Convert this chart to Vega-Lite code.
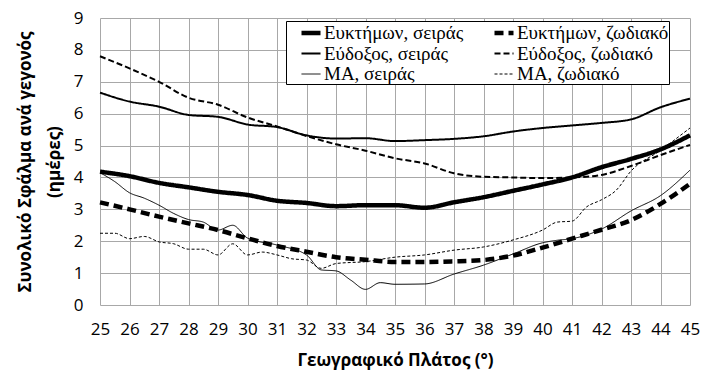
{
  "$schema": "https://vega.github.io/schema/vega-lite/v6.json",
  "width": 590,
  "height": 287,
  "autosize": {"type": "none"},
  "padding": {"left": 100, "top": 18, "right": 25, "bottom": 83},
  "background": "white",
  "config": {
    "view": {"stroke": null},
    "style": {"guide-label": {"font": "Liberation Serif"}},
    "axis": {
      "gridColor": "#a8a8a8",
      "gridWidth": 1,
      "domain": false,
      "ticks": false,
      "labelFont": "Open Sans",
      "labelFontSize": 17,
      "labelColor": "black",
      "titleFont": "Open Sans",
      "titleFontSize": 17,
      "titleFontWeight": "bold",
      "titleColor": "black"
    },
    "legend": {
      "orient": "none",
      "legendX": 186,
      "legendY": 3,
      "columns": 2,
      "strokeColor": "black",
      "fillColor": "white",
      "padding": 0,
      "columnPadding": 15,
      "rowPadding": 0,
      "labelFont": "Liberation Serif",
      "labelFontSize": 19,
      "labelColor": "black",
      "labelOffset": 1,
      "labelLimit": 300,
      "symbolType": "stroke",
      "symbolSize": 361,
      "symbolOffset": 13,
      "symbolStrokeColor": "black"
    }
  },
  "data": {
    "values": [
      {"series": "Ευκτήμων, σειράς", "lat": 25, "err": 4.18},
      {"series": "Ευκτήμων, σειράς", "lat": 26, "err": 4.04},
      {"series": "Ευκτήμων, σειράς", "lat": 27, "err": 3.83},
      {"series": "Ευκτήμων, σειράς", "lat": 28, "err": 3.69},
      {"series": "Ευκτήμων, σειράς", "lat": 29, "err": 3.55},
      {"series": "Ευκτήμων, σειράς", "lat": 30, "err": 3.45},
      {"series": "Ευκτήμων, σειράς", "lat": 31, "err": 3.27},
      {"series": "Ευκτήμων, σειράς", "lat": 32, "err": 3.2},
      {"series": "Ευκτήμων, σειράς", "lat": 33, "err": 3.1},
      {"series": "Ευκτήμων, σειράς", "lat": 34, "err": 3.13},
      {"series": "Ευκτήμων, σειράς", "lat": 35, "err": 3.13},
      {"series": "Ευκτήμων, σειράς", "lat": 36, "err": 3.05},
      {"series": "Ευκτήμων, σειράς", "lat": 37, "err": 3.22},
      {"series": "Ευκτήμων, σειράς", "lat": 38, "err": 3.38},
      {"series": "Ευκτήμων, σειράς", "lat": 39, "err": 3.58},
      {"series": "Ευκτήμων, σειράς", "lat": 40, "err": 3.78},
      {"series": "Ευκτήμων, σειράς", "lat": 41, "err": 4.0},
      {"series": "Ευκτήμων, σειράς", "lat": 42, "err": 4.32},
      {"series": "Ευκτήμων, σειράς", "lat": 43, "err": 4.58},
      {"series": "Ευκτήμων, σειράς", "lat": 44, "err": 4.88},
      {"series": "Ευκτήμων, σειράς", "lat": 45, "err": 5.32},

      {"series": "Ευκτήμων, ζωδιακό", "lat": 25, "err": 3.22},
      {"series": "Ευκτήμων, ζωδιακό", "lat": 26, "err": 3.0},
      {"series": "Ευκτήμων, ζωδιακό", "lat": 27, "err": 2.77},
      {"series": "Ευκτήμων, ζωδιακό", "lat": 28, "err": 2.56},
      {"series": "Ευκτήμων, ζωδιακό", "lat": 29, "err": 2.35},
      {"series": "Ευκτήμων, ζωδιακό", "lat": 30, "err": 2.09},
      {"series": "Ευκτήμων, ζωδιακό", "lat": 31, "err": 1.85},
      {"series": "Ευκτήμων, ζωδιακό", "lat": 32, "err": 1.67},
      {"series": "Ευκτήμων, ζωδιακό", "lat": 33, "err": 1.5},
      {"series": "Ευκτήμων, ζωδιακό", "lat": 34, "err": 1.42},
      {"series": "Ευκτήμων, ζωδιακό", "lat": 35, "err": 1.35},
      {"series": "Ευκτήμων, ζωδιακό", "lat": 36, "err": 1.35},
      {"series": "Ευκτήμων, ζωδιακό", "lat": 37, "err": 1.37},
      {"series": "Ευκτήμων, ζωδιακό", "lat": 38, "err": 1.41},
      {"series": "Ευκτήμων, ζωδιακό", "lat": 39, "err": 1.55},
      {"series": "Ευκτήμων, ζωδιακό", "lat": 40, "err": 1.8},
      {"series": "Ευκτήμων, ζωδιακό", "lat": 41, "err": 2.08},
      {"series": "Ευκτήμων, ζωδιακό", "lat": 42, "err": 2.36},
      {"series": "Ευκτήμων, ζωδιακό", "lat": 43, "err": 2.66},
      {"series": "Ευκτήμων, ζωδιακό", "lat": 44, "err": 3.17},
      {"series": "Ευκτήμων, ζωδιακό", "lat": 45, "err": 3.8},

      {"series": "Εύδοξος, σειράς", "lat": 25, "err": 6.66},
      {"series": "Εύδοξος, σειράς", "lat": 26, "err": 6.38},
      {"series": "Εύδοξος, σειράς", "lat": 27, "err": 6.22},
      {"series": "Εύδοξος, σειράς", "lat": 28, "err": 5.96},
      {"series": "Εύδοξος, σειράς", "lat": 29, "err": 5.9},
      {"series": "Εύδοξος, σειράς", "lat": 30, "err": 5.66},
      {"series": "Εύδοξος, σειράς", "lat": 31, "err": 5.58},
      {"series": "Εύδοξος, σειράς", "lat": 32, "err": 5.32},
      {"series": "Εύδοξος, σειράς", "lat": 33, "err": 5.22},
      {"series": "Εύδοξος, σειράς", "lat": 34, "err": 5.23},
      {"series": "Εύδοξος, σειράς", "lat": 35, "err": 5.14},
      {"series": "Εύδοξος, σειράς", "lat": 36, "err": 5.17},
      {"series": "Εύδοξος, σειράς", "lat": 37, "err": 5.21},
      {"series": "Εύδοξος, σειράς", "lat": 38, "err": 5.29},
      {"series": "Εύδοξος, σειράς", "lat": 39, "err": 5.44},
      {"series": "Εύδοξος, σειράς", "lat": 40, "err": 5.55},
      {"series": "Εύδοξος, σειράς", "lat": 41, "err": 5.63},
      {"series": "Εύδοξος, σειράς", "lat": 42, "err": 5.71},
      {"series": "Εύδοξος, σειράς", "lat": 43, "err": 5.82},
      {"series": "Εύδοξος, σειράς", "lat": 44, "err": 6.2},
      {"series": "Εύδοξος, σειράς", "lat": 45, "err": 6.47},

      {"series": "Εύδοξος, ζωδιακό", "lat": 25, "err": 7.8},
      {"series": "Εύδοξος, ζωδιακό", "lat": 26, "err": 7.42},
      {"series": "Εύδοξος, ζωδιακό", "lat": 27, "err": 7.0},
      {"series": "Εύδοξος, ζωδιακό", "lat": 28, "err": 6.5},
      {"series": "Εύδοξος, ζωδιακό", "lat": 29, "err": 6.28},
      {"series": "Εύδοξος, ζωδιακό", "lat": 30, "err": 5.88},
      {"series": "Εύδοξος, ζωδιακό", "lat": 31, "err": 5.6},
      {"series": "Εύδοξος, ζωδιακό", "lat": 32, "err": 5.3},
      {"series": "Εύδοξος, ζωδιακό", "lat": 33, "err": 5.04},
      {"series": "Εύδοξος, ζωδιακό", "lat": 34, "err": 4.84},
      {"series": "Εύδοξος, ζωδιακό", "lat": 35, "err": 4.6},
      {"series": "Εύδοξος, ζωδιακό", "lat": 36, "err": 4.44},
      {"series": "Εύδοξος, ζωδιακό", "lat": 37, "err": 4.13},
      {"series": "Εύδοξος, ζωδιακό", "lat": 38, "err": 4.02},
      {"series": "Εύδοξος, ζωδιακό", "lat": 39, "err": 4.0},
      {"series": "Εύδοξος, ζωδιακό", "lat": 40, "err": 3.98},
      {"series": "Εύδοξος, ζωδιακό", "lat": 41, "err": 4.0},
      {"series": "Εύδοξος, ζωδιακό", "lat": 42, "err": 4.08},
      {"series": "Εύδοξος, ζωδιακό", "lat": 43, "err": 4.36},
      {"series": "Εύδοξος, ζωδιακό", "lat": 44, "err": 4.7},
      {"series": "Εύδοξος, ζωδιακό", "lat": 45, "err": 5.02},

      {"series": "ΜΑ, σειράς", "lat": 25, "err": 4.15},
      {"series": "ΜΑ, σειράς", "lat": 25.5, "err": 3.87},
      {"series": "ΜΑ, σειράς", "lat": 26, "err": 3.52},
      {"series": "ΜΑ, σειράς", "lat": 26.5, "err": 3.35},
      {"series": "ΜΑ, σειράς", "lat": 27, "err": 3.13},
      {"series": "ΜΑ, σειράς", "lat": 27.5, "err": 2.87},
      {"series": "ΜΑ, σειράς", "lat": 28, "err": 2.68},
      {"series": "ΜΑ, σειράς", "lat": 28.5, "err": 2.6},
      {"series": "ΜΑ, σειράς", "lat": 29, "err": 2.35},
      {"series": "ΜΑ, σειράς", "lat": 29.5, "err": 2.5},
      {"series": "ΜΑ, σειράς", "lat": 30, "err": 2.1},
      {"series": "ΜΑ, σειράς", "lat": 31, "err": 1.88},
      {"series": "ΜΑ, σειράς", "lat": 32, "err": 1.57},
      {"series": "ΜΑ, σειράς", "lat": 32.5, "err": 1.1},
      {"series": "ΜΑ, σειράς", "lat": 33, "err": 1.07},
      {"series": "ΜΑ, σειράς", "lat": 33.5, "err": 0.78},
      {"series": "ΜΑ, σειράς", "lat": 34, "err": 0.49},
      {"series": "ΜΑ, σειράς", "lat": 34.5, "err": 0.7},
      {"series": "ΜΑ, σειράς", "lat": 35, "err": 0.65},
      {"series": "ΜΑ, σειράς", "lat": 36, "err": 0.66},
      {"series": "ΜΑ, σειράς", "lat": 37, "err": 0.97},
      {"series": "ΜΑ, σειράς", "lat": 38, "err": 1.25},
      {"series": "ΜΑ, σειράς", "lat": 39, "err": 1.6},
      {"series": "ΜΑ, σειράς", "lat": 40, "err": 1.95},
      {"series": "ΜΑ, σειράς", "lat": 40.5, "err": 2.03},
      {"series": "ΜΑ, σειράς", "lat": 41, "err": 2.08},
      {"series": "ΜΑ, σειράς", "lat": 42, "err": 2.38},
      {"series": "ΜΑ, σειράς", "lat": 43, "err": 2.95},
      {"series": "ΜΑ, σειράς", "lat": 44, "err": 3.43},
      {"series": "ΜΑ, σειράς", "lat": 45, "err": 4.23},

      {"series": "ΜΑ, ζωδιακό", "lat": 25, "err": 2.25},
      {"series": "ΜΑ, ζωδιακό", "lat": 25.5, "err": 2.25},
      {"series": "ΜΑ, ζωδιακό", "lat": 26, "err": 2.08},
      {"series": "ΜΑ, ζωδιακό", "lat": 26.5, "err": 2.15},
      {"series": "ΜΑ, ζωδιακό", "lat": 27, "err": 1.98},
      {"series": "ΜΑ, ζωδιακό", "lat": 27.5, "err": 1.92},
      {"series": "ΜΑ, ζωδιακό", "lat": 28, "err": 1.75},
      {"series": "ΜΑ, ζωδιακό", "lat": 28.5, "err": 1.75},
      {"series": "ΜΑ, ζωδιακό", "lat": 29, "err": 1.57},
      {"series": "ΜΑ, ζωδιακό", "lat": 29.5, "err": 1.92},
      {"series": "ΜΑ, ζωδιακό", "lat": 30, "err": 1.57},
      {"series": "ΜΑ, ζωδιακό", "lat": 30.5, "err": 1.66},
      {"series": "ΜΑ, ζωδιακό", "lat": 31, "err": 1.57},
      {"series": "ΜΑ, ζωδιακό", "lat": 31.5, "err": 1.45},
      {"series": "ΜΑ, ζωδιακό", "lat": 32, "err": 1.41},
      {"series": "ΜΑ, ζωδιακό", "lat": 32.5, "err": 1.15},
      {"series": "ΜΑ, ζωδιακό", "lat": 33, "err": 1.3},
      {"series": "ΜΑ, ζωδιακό", "lat": 34, "err": 1.36},
      {"series": "ΜΑ, ζωδιακό", "lat": 35, "err": 1.5},
      {"series": "ΜΑ, ζωδιακό", "lat": 36, "err": 1.57},
      {"series": "ΜΑ, ζωδιακό", "lat": 37, "err": 1.72},
      {"series": "ΜΑ, ζωδιακό", "lat": 38, "err": 1.82},
      {"series": "ΜΑ, ζωδιακό", "lat": 39, "err": 2.04},
      {"series": "ΜΑ, ζωδιακό", "lat": 40, "err": 2.35},
      {"series": "ΜΑ, ζωδιακό", "lat": 40.5, "err": 2.6},
      {"series": "ΜΑ, ζωδιακό", "lat": 41, "err": 2.63},
      {"series": "ΜΑ, ζωδιακό", "lat": 41.5, "err": 3.08},
      {"series": "ΜΑ, ζωδιακό", "lat": 42, "err": 3.3},
      {"series": "ΜΑ, ζωδιακό", "lat": 42.5, "err": 3.6},
      {"series": "ΜΑ, ζωδιακό", "lat": 43, "err": 4.2},
      {"series": "ΜΑ, ζωδιακό", "lat": 44, "err": 4.85},
      {"series": "ΜΑ, ζωδιακό", "lat": 45, "err": 5.55}
    ]
  },
  "mark": {"type": "line", "interpolate": "monotone", "color": "black"},
  "encoding": {
    "x": {
      "field": "lat",
      "type": "quantitative",
      "scale": {"domain": [25, 45], "nice": false, "zero": false},
      "axis": {
        "values": [25,26,27,28,29,30,31,32,33,34,35,36,37,38,39,40,41,42,43,44,45],
        "title": "Γεωγραφικό Πλάτος (°)",
        "labelPadding": 16,
        "titlePadding": 15,
        "labelFlush": false
      }
    },
    "y": {
      "field": "err",
      "type": "quantitative",
      "scale": {"domain": [0, 9], "nice": false},
      "axis": {
        "values": [0,1,2,3,4,5,6,7,8,9],
        "title": ["Συνολικό Σφάλμα ανά γεγονός", "(ημέρες)"],
        "titleLineHeight": 29,
        "labelPadding": 17,
        "titlePadding": 10,
        "labelFlush": false
      }
    },
    "detail": {"field": "series"},
    "strokeWidth": {
      "field": "series",
      "type": "nominal",
      "scale": {
        "type": "ordinal",
        "domain": ["Ευκτήμων, σειράς", "Εύδοξος, σειράς", "ΜΑ, σειράς", "Ευκτήμων, ζωδιακό", "Εύδοξος, ζωδιακό", "ΜΑ, ζωδιακό"],
        "range": [4.5, 2, 1, 4.5, 2, 1]
      },
      "legend": {"title": null, "labelFont": "Liberation Serif", "strokeColor": "black"}
    },
    "strokeDash": {
      "field": "series",
      "type": "nominal",
      "scale": {
        "type": "ordinal",
        "domain": ["Ευκτήμων, σειράς", "Εύδοξος, σειράς", "ΜΑ, σειράς", "Ευκτήμων, ζωδιακό", "Εύδοξος, ζωδιακό", "ΜΑ, ζωδιακό"],
        "range": [[1, 0], [1, 0], [1, 0], [9, 5], [6, 3], [3, 2]]
      },
      "legend": {"title": null, "labelFont": "Liberation Serif", "strokeColor": "black"}
    }
  }
}
